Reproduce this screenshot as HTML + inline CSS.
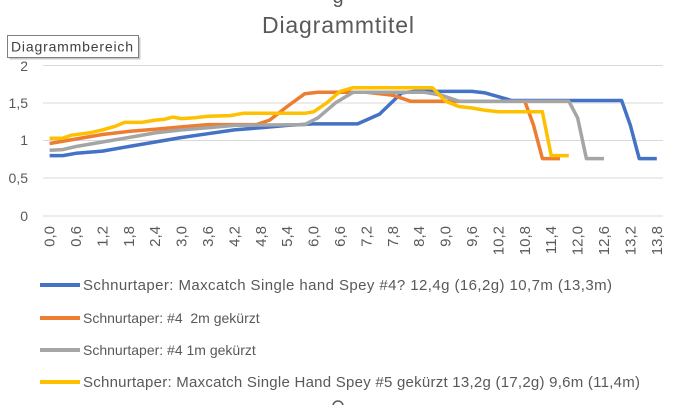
<!DOCTYPE html>
<html><head><meta charset="utf-8"><style>
body{margin:0;background:#fff;width:675px;height:405px;overflow:hidden;font-family:"Liberation Sans",sans-serif}
</style></head><body>
<svg width="675" height="405" xmlns="http://www.w3.org/2000/svg" font-family="Liberation Sans, sans-serif">
<rect width="675" height="405" fill="#fff"/>
<text x="338" y="3" font-size="20" fill="#595959" text-anchor="middle">g</text>
<text x="338" y="33" font-size="23" fill="#595959" text-anchor="middle" textLength="152">Diagrammtitel</text>
<g stroke="#d9d9d9" stroke-width="1">
<line x1="43" x2="663" y1="65.5" y2="65.5"/><line x1="43" x2="663" y1="103" y2="103"/>
<line x1="43" x2="663" y1="140.5" y2="140.5"/><line x1="43" x2="663" y1="178" y2="178"/>
<line x1="43" x2="663" y1="216" y2="216"/></g>
<g font-size="14" fill="#595959" text-anchor="end">
<text x="28" y="71">2</text><text x="28" y="108">1,5</text><text x="28" y="145">1</text><text x="28" y="183">0,5</text><text x="28" y="221">0</text></g>
<g font-size="14" fill="#595959" id="xl"></g>
<g fill="none" stroke-width="3.5" stroke-linejoin="round">
<polyline id="blue" stroke="#4472c4"/>
<polyline id="orange" stroke="#ed7d31"/>
<polyline id="gray" stroke="#a5a5a5"/>
<polyline id="yellow" stroke="#ffc000"/>
</g>
<rect x="9.5" y="37.5" width="131" height="22" fill="#c8c8c8" stroke="none"/>
<rect x="7.5" y="35.5" width="131" height="22" fill="#fff" stroke="#7f7f7f"/>
<text x="11" y="51.5" font-size="14" fill="#404040" textLength="122">Diagrammbereich</text>
<g stroke-width="4">
<line x1="40" x2="80" y1="285" y2="285" stroke="#4472c4"/>
<line x1="40" x2="80" y1="318" y2="318" stroke="#ed7d31"/>
<line x1="40" x2="80" y1="350" y2="350" stroke="#a5a5a5"/>
<line x1="40" x2="80" y1="382" y2="382" stroke="#ffc000"/></g>
<g font-size="15" fill="#595959">
<text x="83" y="290" textLength="529">Schnurtaper: Maxcatch Single hand Spey #4? 12,4g (16,2g) 10,7m (13,3m)</text>
<text x="83" y="323" font-size="14">Schnurtaper: #4&#160; 2m gekürzt</text>
<text x="83" y="355" font-size="14">Schnurtaper: #4 1m gekürzt</text>
<text x="83" y="387" textLength="557">Schnurtaper: Maxcatch Single Hand Spey #5 gekürzt 13,2g (17,2g) 9,6m (11,4m)</text>
</g>
<circle cx="338" cy="406" r="5" fill="none" stroke="#595959" stroke-width="1.5"/>
</svg>
<script>
function P(a){return a.map(p=>(49.6+44*p[0]).toFixed(1)+","+(216-75.5*p[1]).toFixed(1)).join(" ");}
document.getElementById("blue").setAttribute("points",P([[0,.8],[.3,.8],[.6,.83],[1.2,.86],[1.8,.92],[2.4,.98],[3,1.04],[3.6,1.09],[4.2,1.14],[4.8,1.17],[5.4,1.2],[6,1.22],[7,1.22],[7.5,1.35],[8,1.63],[8.3,1.65],[9.6,1.65],[9.9,1.63],[10.2,1.58],[10.5,1.53],[13,1.53],[13.2,1.2],[13.4,.76],[13.8,.76]]));
document.getElementById("orange").setAttribute("points",P([[0,.96],[.6,1.02],[1.2,1.08],[1.8,1.12],[2.4,1.15],[3,1.18],[3.6,1.21],[4.7,1.21],[5,1.27],[5.4,1.45],[5.8,1.62],[6.1,1.64],[7.2,1.64],[7.8,1.6],[8.2,1.52],[9,1.52],[10.8,1.52],[11,1.2],[11.2,.76],[11.6,.76]]));
document.getElementById("gray").setAttribute("points",P([[0,.87],[.3,.88],[.6,.92],[1.2,.98],[1.8,1.04],[2.4,1.1],[3,1.14],[3.6,1.17],[4.2,1.2],[5.8,1.21],[6.1,1.3],[6.5,1.5],[6.9,1.64],[8.5,1.64],[8.9,1.6],[9.3,1.52],[11.8,1.52],[12,1.3],[12.2,.76],[12.6,.76]]));
document.getElementById("yellow").setAttribute("points",P([[0,1.03],[.3,1.03],[.5,1.07],[.9,1.1],[1.2,1.14],[1.5,1.19],[1.7,1.24],[2.1,1.24],[2.4,1.27],[2.6,1.28],[2.8,1.31],[3,1.29],[3.3,1.3],[3.6,1.32],[4.1,1.33],[4.4,1.36],[5.8,1.36],[6,1.38],[6.3,1.5],[6.6,1.65],[6.9,1.7],[8.7,1.7],[9,1.52],[9.3,1.45],[9.6,1.43],[9.9,1.4],[10.2,1.38],[11.2,1.38],[11.4,.8],[11.8,.8]]));
var g=document.getElementById("xl"),s="";
for(var i=0;i<24;i++){var v=(i*0.6).toFixed(1).replace(".",",");var x=49.6+44*i*0.6+5;
s+='<text transform="translate('+x.toFixed(1)+',226) rotate(-90)" text-anchor="end" font-size="15">'+v+'</text>';}
g.innerHTML=s;
</script>
</body></html>
